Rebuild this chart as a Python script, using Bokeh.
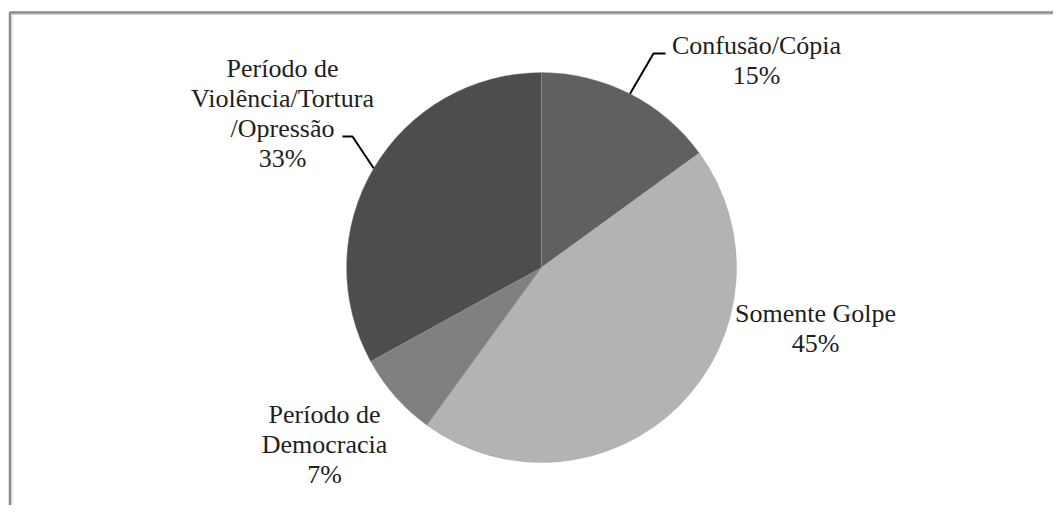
import numpy as np
from bokeh.plotting import figure
from bokeh.models import ColumnDataSource, Range1d
from bokeh.core.properties import value
from bokeh.embed import file_html
from bokeh.resources import INLINE

# ---- data ----
categories = ["Confusão/Cópia", "Somente Golpe", "Período de Democracia",
              "Período de Violência/Tortura/Opressão"]
label_lines = [["Confusão/Cópia"], ["Somente Golpe"], ["Período de", "Democracia"],
               ["Período de", "Violência/Tortura", "/Opressão"]]
percent = [15, 45, 7, 33]
colors = ["#606060", "#b3b3b3", "#808080", "#4d4d4d"]

# ---- layout (page pixels; data y = 513 - pixel y) ----
PAGE_H = 513
CX, CY, R = 541, PAGE_H - 267, 195
label_pos_px = [(756, 60), (815, 328), (324, 444), (282, 112.5)]
LINE_STEP = 30
leader_elbows_px = {0: [(665, 53), (653, 53)], 3: [(342, 136), (352, 136)]}

frac = np.array(percent, dtype=float) / sum(percent)
cum = np.cumsum(frac)
start_cw = cum - frac
start_angle = np.pi / 2 - 2 * np.pi * cum
end_angle = np.pi / 2 - 2 * np.pi * start_cw
mid_cw = (start_cw + cum) / 2

p = figure(width=1053, height=505, x_range=Range1d(0, 1053), y_range=Range1d(8, 513),
           output_backend="svg", toolbar_location=None, min_border=0)
p.axis.visible = False
p.grid.visible = False
p.outline_line_color = None
p.background_fill_color = "white"
p.border_fill_color = "white"

# outer frame
p.quad(left=9.5, right=1200, top=PAGE_H - 12, bottom=-50, fill_color=None,
       line_color="#8a8a8a", line_width=2.5)
p.quad(left=11.5, right=1200, top=PAGE_H - 14, bottom=-50, fill_color=None,
       line_color="#d4d4d4", line_width=1)

src = ColumnDataSource(dict(cat=categories, start=start_angle, end=end_angle, color=colors))
p.wedge(x=CX, y=CY, radius=R, start_angle="start", end_angle="end", fill_color="color",
        line_color="#9a9a9a", line_alpha=0.35, line_width=1, source=src)

# leader lines
for i, elbows in leader_elbows_px.items():
    ang = np.pi / 2 - 2 * np.pi * mid_cw[i]
    xs = [e[0] for e in elbows] + [CX + R * np.cos(ang)]
    ys = [PAGE_H - e[1] for e in elbows] + [CY + R * np.sin(ang)]
    p.line(xs, ys, line_color="black", line_width=2)

# labels, one text item per line
tx, ty, tt = [], [], []
for lines, pc, (lx, ly) in zip(label_lines, percent, label_pos_px):
    all_lines = lines + [f"{pc}%"]
    n = len(all_lines)
    for k, s in enumerate(all_lines):
        tx.append(lx)
        ty.append(PAGE_H - (ly + (k - (n - 1) / 2) * LINE_STEP))
        tt.append(s)
lsrc = ColumnDataSource(dict(x=tx, y=ty, text=tt))
p.text(x="x", y="y", text="text", source=lsrc, text_align="center", text_baseline="middle",
       text_font=value("Liberation Serif"), text_font_size="26px", text_color="#1e1e1e")

open("out.html", "w").write(file_html(p, INLINE))
